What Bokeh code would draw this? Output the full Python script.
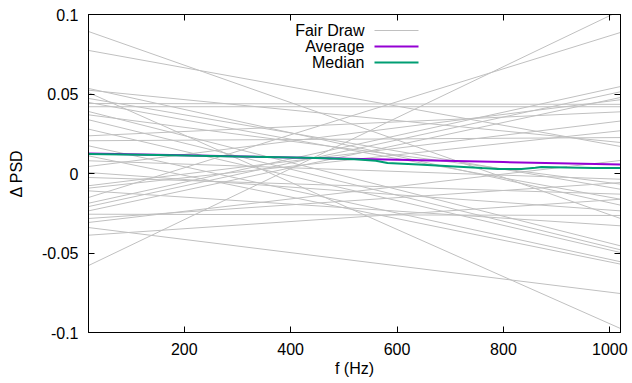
from bokeh.plotting import figure
from bokeh.models import Range1d, LinearAxis, FixedTicker, Label
from bokeh.embed import file_html
from bokeh.resources import INLINE

# ---------------- data ----------------
x_ends = [20, 1020]

fair_left = [0.0893, 0.0774, 0.0509, -0.0579, -0.0151, -0.0340, 0.0535, 0.0524,
             0.0472, 0.0447, 0.0420, 0.0390, 0.0369, 0.0338, 0.0279, 0.0237,
             0.0206, 0.0174, 0.0111, 0.0080, 0.0044, 0.0006, -0.0025, -0.0077,
             -0.0092, -0.0109, -0.0187, -0.0208, -0.0235, -0.0256, -0.0283,
             -0.0308, -0.0388, 0.0440]
fair_right = [-0.0283, 0.0170, -0.0975, 0.1025, 0.0887, -0.0755, -0.0199, 0.0195,
              -0.0099, -0.0162, 0.0420, -0.0455, -0.0067, -0.0480, -0.0497, 0.0388,
              0.0226, -0.0555, -0.0570, -0.0036, 0.0464, -0.0235, -0.0130, 0.0330,
              0.0269, -0.0329, 0.0547, 0.0514, 0.0478, -0.0264, -0.0057,
              0.0082, -0.0162, 0.0435]

avg_x = [20, 200, 400, 600, 800, 1020]
avg_y = [0.0126, 0.0114, 0.0101, 0.0087, 0.0072, 0.0056]

med_x = [20, 150, 300, 450, 520, 560, 582, 640, 708, 760, 789, 834, 860,
         871, 920, 970, 1020]
med_y = [0.0123, 0.0116, 0.0107, 0.0097, 0.0089, 0.0080, 0.0066, 0.0056,
         0.0044, 0.0034, 0.0029, 0.0029, 0.0036, 0.0041, 0.0037, 0.0034,
         0.0034]

x_ticks = [200, 400, 600, 800, 1000]
y_ticks = [-0.1, -0.05, 0, 0.05, 0.1]
y_tick_labels = ["-0.1", "-0.05", "0", "0.05", "0.1"]

legend_names = ["Fair Draw", "Average", "Median"]
legend_colors = ["#c0c0c0", "#9400d3", "#009e73"]
legend_widths = [1, 2, 2]

# ---------------- figure ----------------
FONT = "Liberation Sans"
XMIN, XMAX, YMIN, YMAX = 20, 1020, -0.1, 0.1
W, H = 632, 383
BL, BR, BT, BB = 88, 12, 14, 51
FW, FH = W - BL - BR, H - BT - BB

p = figure(width=W, height=H, output_backend="svg", toolbar_location=None,
           x_range=Range1d(XMIN, XMAX), y_range=Range1d(YMIN, YMAX),
           min_border_left=BL, min_border_right=BR, min_border_top=BT,
           min_border_bottom=BB)
p.grid.visible = False
p.outline_line_color = "black"
p.outline_line_width = 1
p.background_fill_color = "white"
p.border_fill_color = "white"

for ax in (p.xaxis[0], p.yaxis[0]):
    ax.major_tick_in = 6
    ax.major_tick_out = 0
    ax.minor_tick_line_color = None
    ax.axis_line_color = "black"
    ax.major_tick_line_color = "black"
    ax.major_label_text_font = FONT
    ax.major_label_text_font_size = "16px"
    ax.major_label_text_color = "black"
    ax.axis_label_text_font = FONT
    ax.axis_label_text_font_size = "16px"
    ax.axis_label_text_font_style = "normal"
    ax.axis_label_text_color = "black"

p.xaxis.ticker = FixedTicker(ticks=x_ticks)
p.yaxis.ticker = FixedTicker(ticks=y_ticks)
p.yaxis.major_label_overrides = {t: s for t, s in zip(y_ticks, y_tick_labels)}
p.xaxis.axis_label = "f (Hz)"
p.yaxis.axis_label = "\u0394 PSD"
p.xaxis.major_label_standoff = 10
p.yaxis.major_label_standoff = 10
p.xaxis.axis_label_standoff = 2
p.yaxis.axis_label_standoff = 14

# mirrored ticks (labels not drawn)
for loc, tk in (("above", x_ticks), ("right", y_ticks)):
    ax = LinearAxis(ticker=FixedTicker(ticks=tk), major_tick_in=6, major_tick_out=0,
                    minor_tick_line_color=None, axis_line_color="black",
                    major_label_text_font_size="1px", major_label_text_color=None,
                    major_label_standoff=0)
    p.add_layout(ax, loc)

# fair draws
xs = [x_ends for _ in fair_left]
ys = [[a, b] for a, b in zip(fair_left, fair_right)]
p.multi_line(xs, ys, line_color=legend_colors[0], line_width=1)

p.line(avg_x, avg_y, line_color=legend_colors[1], line_width=2)
p.line(med_x, med_y, line_color=legend_colors[2], line_width=2)

# legend (gnuplot-style: text right-aligned, sample on the right)
def dx(px):
    return XMIN + (px - BL) / FW * (XMAX - XMIN)

def dy(py):
    return YMAX - (py - BT) / FH * (YMAX - YMIN)

for i, (name, col, lw) in enumerate(zip(legend_names, legend_colors, legend_widths)):
    ypx = 30 + 16 * i
    p.add_layout(Label(x=dx(364), y=dy(ypx), text=name, text_align="right",
                       text_baseline="middle", text_font=FONT,
                       text_font_size="16px", text_color="black"))
    p.segment(x0=[dx(374)], y0=[dy(ypx)], x1=[dx(418)], y1=[dy(ypx)],
              line_color=col, line_width=lw)

open("out.html", "w").write(file_html(p, INLINE))
